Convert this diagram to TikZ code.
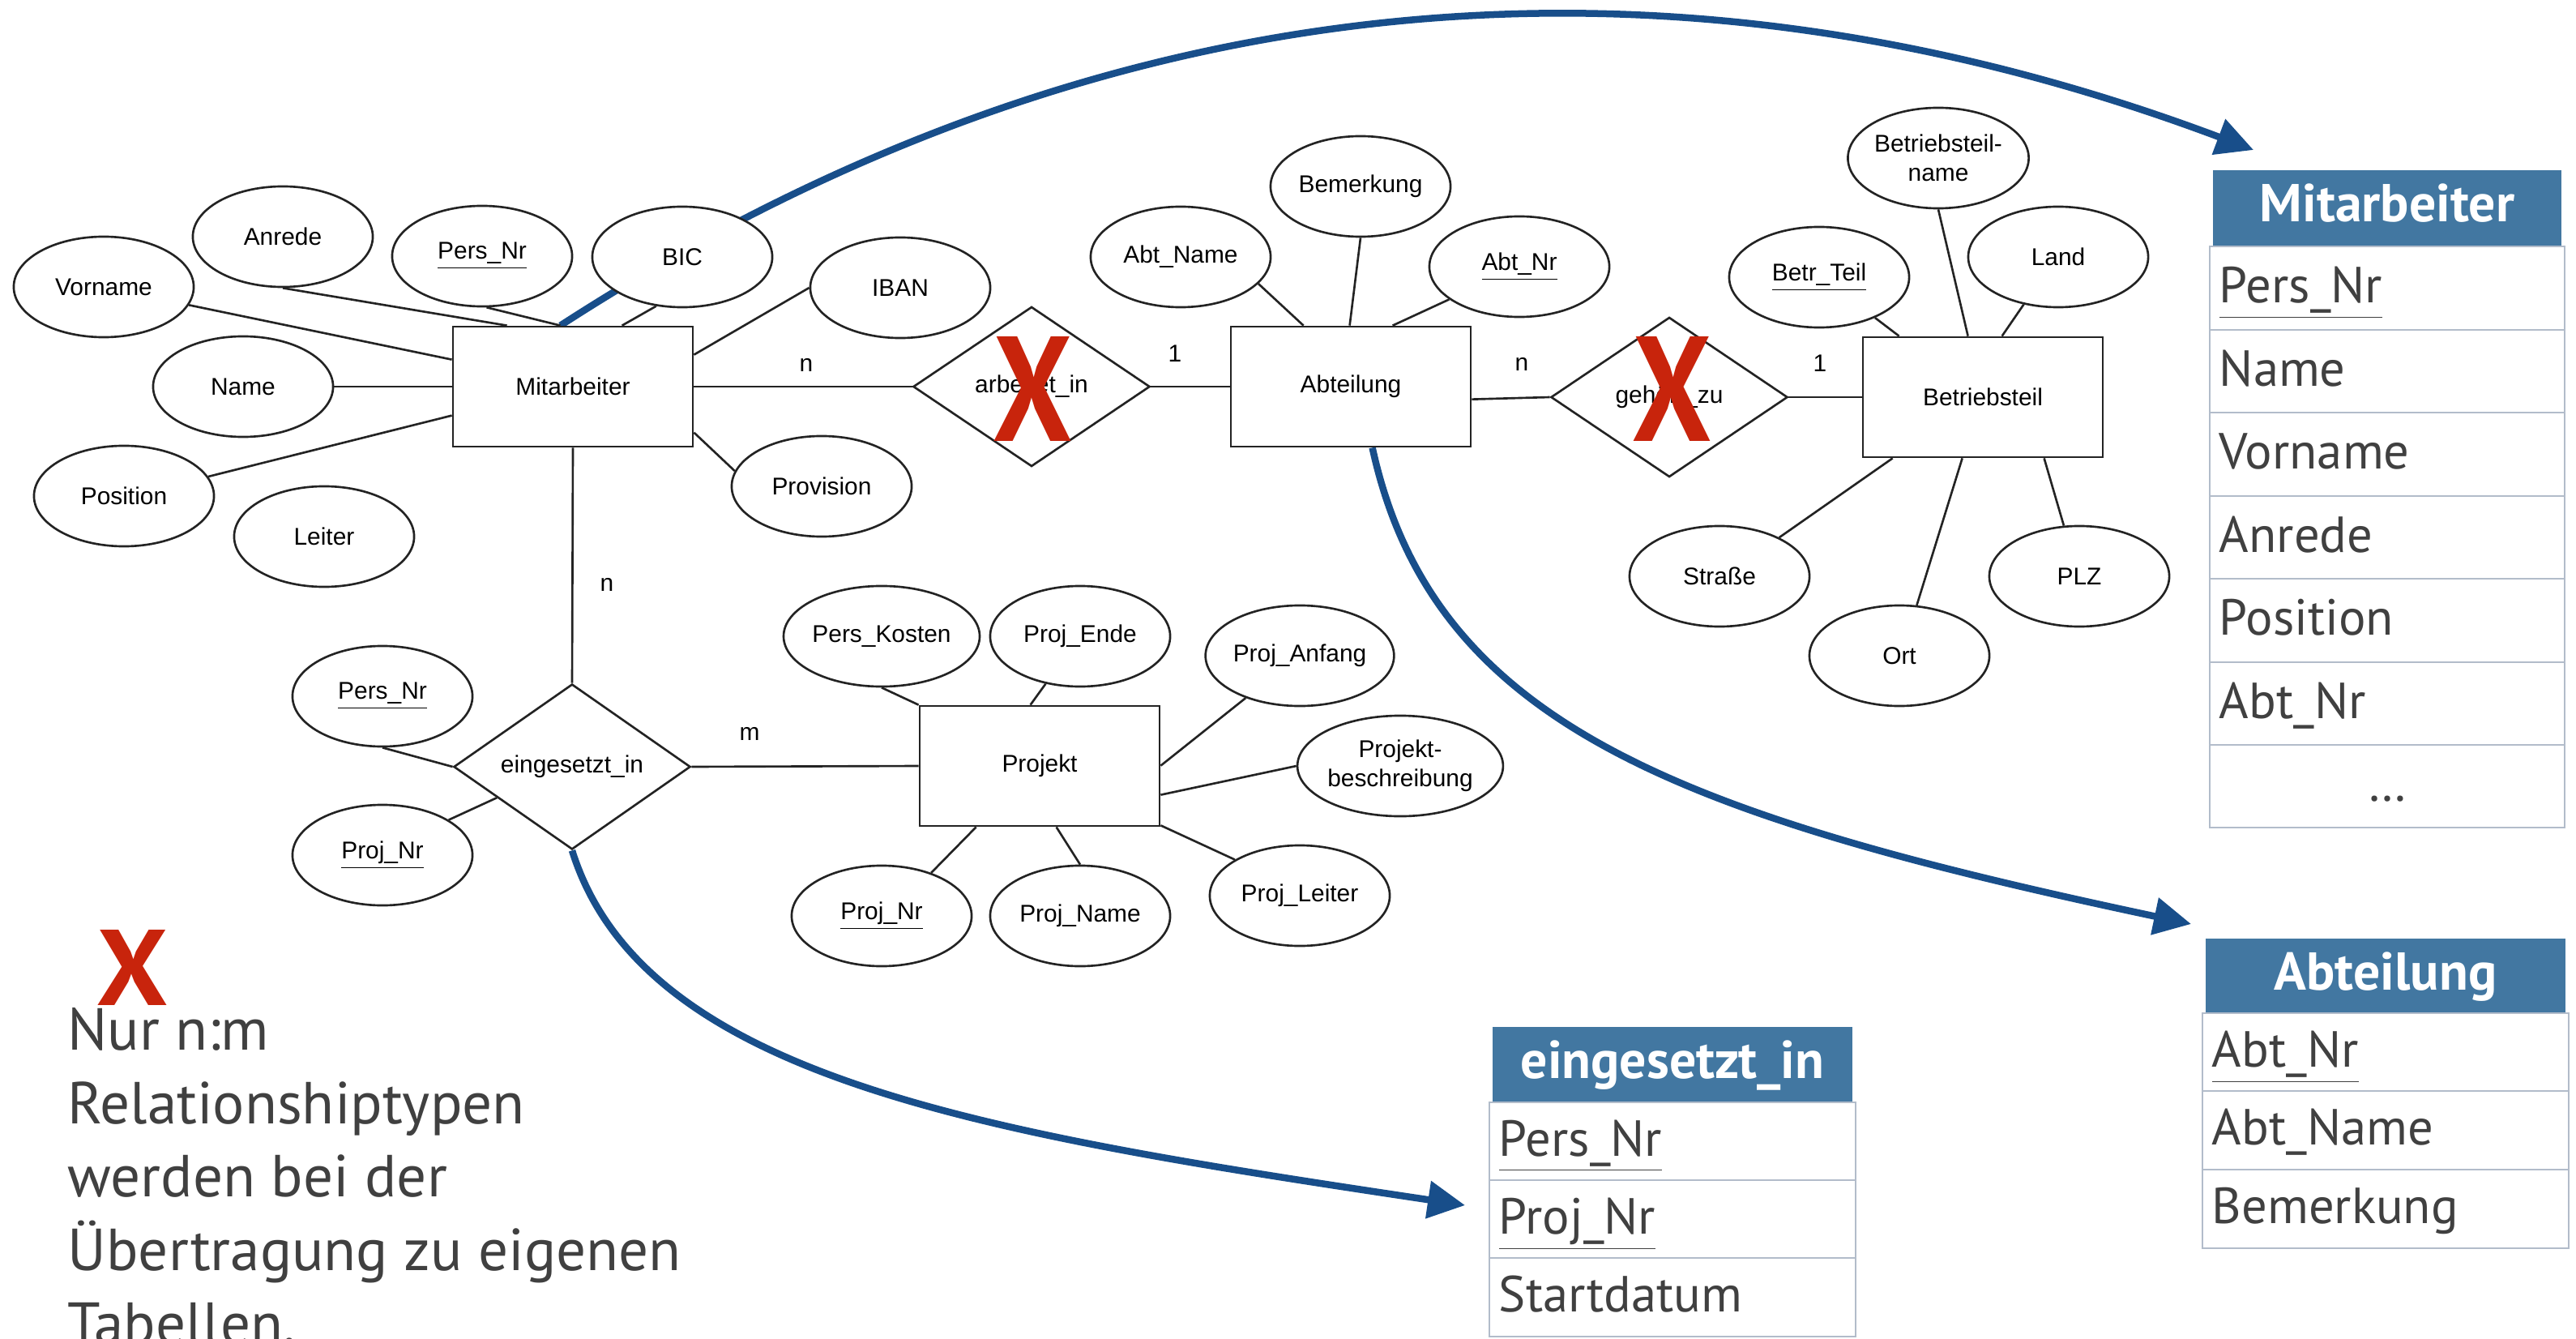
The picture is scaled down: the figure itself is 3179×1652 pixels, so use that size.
\documentclass[tikz,border=0pt]{standalone}
\usepackage{fontspec}
\usepackage{graphicx}
\setmainfont{Liberation Sans}
\newfontfamily\tabfont{PT Sans}
\usetikzlibrary{shapes.geometric,arrows.meta,calc,backgrounds}
\definecolor{erline}{RGB}{35,35,35}
\definecolor{flowblue}{RGB}{24,78,138}
\definecolor{headblue}{RGB}{66,119,161}
\definecolor{rowline}{RGB}{178,188,202}
\definecolor{tabtext}{RGB}{64,64,64}
\definecolor{crossred}{RGB}{200,36,12}
\begin{document}
\begin{tikzpicture}[x=0.01cm,y=-0.01cm,
  every node/.style={inner sep=0pt},
  erfont/.style={font=\fontsize{8.5}{10.2}\selectfont},
  attr/.style={ellipse,draw=erline,line width=0.75pt,fill=white,minimum width=2.22cm,minimum height=1.24cm,erfont,align=center},
  entity/.style={rectangle,draw=erline,line width=0.75pt,fill=white,minimum width=2.96cm,minimum height=1.48cm,erfont},
  rel/.style={diamond,draw=erline,line width=0.75pt,fill=white,minimum width=2.92cm,minimum height=1.97cm,erfont},
  link/.style={draw=erline,line width=0.75pt},
  card/.style={erfont},
  flow/.style={draw=flowblue,line width=0.085cm,-{Triangle[length=0.46cm,width=0.45cm]}},
  cross/.style={text=crossred,font=\tabfont\bfseries},
  thead/.style={fill=headblue,text=white,font=\tabfont\bfseries\fontsize{18.7}{20}\selectfont,minimum height=0.93cm,text height=0.5cm,text depth=0.16cm},
  trow/.style={draw=rowline,line width=0.6pt,fill=white,text=tabtext,font=\tabfont\fontsize{17.8}{20}\selectfont,text height=0.5cm,text depth=0.14cm,align=left,inner xsep=0.12cm},
  mrow/.style={trow,text width=4.14cm,minimum height=1.024cm},
  srow/.style={trow,text width=4.28cm,minimum height=0.965cm},
  notetext/.style={font=\tabfont\fontsize{20.8}{25}\selectfont,text=tabtext,anchor=base west},
]
\useasboundingbox (0,0) rectangle (3179,1652);

% ---------- entities, relationships, attributes ----------
\node[attr] (vorname) at (128,354) {Vorname};
\node[attr] (anrede) at (349,292) {Anrede};
\node[attr] (persnrA) at (595,316) {\underline{Pers\_Nr}};
\node[attr] (bic) at (842,317) {BIC};
\node[attr] (iban) at (1111,355) {IBAN};
\node[attr] (name) at (300,477) {Name};
\node[attr] (position) at (153,612) {Position};
\node[attr] (leiter) at (400,662) {Leiter};
\node[attr] (provision) at (1014,600) {Provision};
\node[entity] (mit) at (707,477) {Mitarbeiter};

\node[rel] (arbeitet) at (1273,477) {arbeitet\_in};

\node[entity] (abt) at (1667,477) {Abteilung};
\node[attr] (abtname) at (1457,317) {Abt\_Name};
\node[attr] (bemerkung) at (1679,230) {Bemerkung};
\node[attr] (abtnr) at (1875,329) {\underline{Abt\_Nr}};

\node[rel] (gehoert) at (2060,490) {gehört\_zu};

\node[entity] (betr) at (2447,490) {Betriebsteil};
\node[attr] (betrteil) at (2245,342) {\underline{Betr\_Teil}};
\node[attr] (betrname) at (2392,195) {Betriebsteil-\\name};
\node[attr] (land) at (2540,317) {Land};
\node[attr] (strasse) at (2122,711) {Straße};
\node[attr] (ort) at (2344,809) {Ort};
\node[attr] (plz) at (2566,711) {PLZ};

\node[rel] (einges) at (706,946) {eingesetzt\_in};
\node[attr] (persnrB) at (472,859) {\underline{Pers\_Nr}};
\node[attr] (projnrA) at (472,1055) {\underline{Proj\_Nr}};

\node[entity] (proj) at (1283,945) {Projekt};
\node[attr] (perskosten) at (1088,785) {Pers\_Kosten};
\node[attr] (projende) at (1333,785) {Proj\_Ende};
\node[attr] (projanfang) at (1604,809) {Proj\_Anfang};
\node[attr] (projbeschr) at (1728,945) {Projekt-\\beschreibung};
\node[attr] (projnrB) at (1088,1130) {\underline{Proj\_Nr}};
\node[attr] (projname) at (1333,1130) {Proj\_Name};
\node[attr] (projleiter) at (1604,1105) {Proj\_Leiter};

% ---------- attribute links ----------
\draw[link] (vorname.-12) -- ($(mit.north west)+(0,42)$);
\draw[link] (anrede.south) -- ($(mit.north west)+(68,0)$);
\draw[link] (persnrA.-85) -- ($(mit.north west)+(134,0)$);
\draw[link] (bic.-118) -- ($(mit.north west)+(210,0)$);
\draw[link] (iban.west) -- ($(mit.north east)+(0,36)$);
\draw[link] (name.east) -- (mit.west);
\draw[link] (position.13) -- ($(mit.north west)+(0,111)$);
\draw[link] (provision.170) -- ($(mit.north east)+(0,132)$);

\draw[link] (abtname.-19) -- ($(abt.north west)+(91,0)$);
\draw[link] (bemerkung.south) -- ($(abt.north west)+(148,0)$);
\draw[link] (abtnr.205) -- ($(abt.north west)+(201,0)$);

\draw[link] (betrteil.-36) -- ($(betr.north west)+(46,0)$);
\draw[link] (betrname.south) -- ($(betr.north west)+(131,0)$);
\draw[link] (land.-126) -- ($(betr.north west)+(173,0)$);
\draw[link] (strasse.33) -- ($(betr.south west)+(38,0)$);
\draw[link] (ort.71) -- ($(betr.south west)+(124,0)$);
\draw[link] (plz.107) -- ($(betr.south west)+(225,0)$);

\draw[link] (persnrB.south) -- (einges.west);
\draw[link] (projnrA.28) -- ($(einges.west)!0.37!(einges.south)$);

\draw[link] (perskosten.south) -- (proj.north west);
\draw[link] (projende.-126) -- ($(proj.north west)+(138,0)$);
\draw[link] (projanfang.-142) -- ($(proj.north east)+(0,75)$);
\draw[link] (projbeschr.west) -- ($(proj.north east)+(0,111)$);
\draw[link] (projnrB.41) -- ($(proj.south west)+(71,0)$);
\draw[link] (projname.north) -- ($(proj.south west)+(170,0)$);
\draw[link] (projleiter.151) -- ($(proj.south east)+(0,-2)$);

% ---------- relationship links and cardinalities ----------
\draw[link] (mit.east) -- (arbeitet.west);
\draw[link] (arbeitet.east) -- (abt.west);
\draw[link] ($(abt.north east)+(0,91)$) -- (gehoert.west);
\draw[link] (gehoert.east) -- (betr.west);
\draw[link] (mit.south) -- (einges.north);
\draw[link] (einges.east) -- (proj.west);

\node[card] (c1) at (995,450) {n};
\node[card] (c2) at (1450,436) {1};
\node[card] (c3) at (1878,449) {n};
\node[card] (c4) at (2246,448) {1};
\node[card] (c5) at (749,721) {n};
\node[card] (c6) at (925,905) {m};

% ---------- crossed-out relationships ----------
\node[cross] (x1) at (1275,480) {\resizebox{0.98cm}{1.29cm}{X}};
\node[cross] (x2) at (2064,480) {\resizebox{0.98cm}{1.29cm}{X}};
\node[cross] (x3) at (164,1194) {\resizebox{0.88cm}{0.93cm}{X}};

% ---------- tables ----------
\node[thead,minimum width=4.3cm] (tmh) at (2946,256.5) {Mitarbeiter};
\node[mrow] (tm1) at (2946,355.5) {\underline{Pers\_Nr}};
\node[mrow] (tm2) at (2946,458) {Name};
\node[mrow] (tm3) at (2946,560.5) {Vorname};
\node[mrow] (tm4) at (2946,663) {Anrede};
\node[mrow] (tm5) at (2946,765.5) {Position};
\node[mrow] (tm6) at (2946,868) {Abt\_Nr};
\node[mrow,align=center] (tm7) at (2946,970) {…};

\node[thead,minimum width=4.44cm] (tah) at (2944,1204.5) {Abteilung};
\node[srow] (ta1) at (2944,1298.5) {\underline{Abt\_Nr}};
\node[srow] (ta2) at (2944,1394.5) {Abt\_Name};
\node[srow] (ta3) at (2944,1491.5) {Bemerkung};

\node[thead,minimum width=4.44cm] (teh) at (2064,1313.5) {eingesetzt\_in};
\node[srow] (te1) at (2064,1408) {\underline{Pers\_Nr}};
\node[srow] (te2) at (2064,1504) {\underline{Proj\_Nr}};
\node[srow] (te3) at (2064,1600.5) {Startdatum};

% ---------- note ----------
\node[notetext] (n1) at (83,1295) {Nur n:m};
\node[notetext] (n2) at (83,1386) {Relationshiptypen};
\node[notetext] (n3) at (83,1476) {werden bei der};
\node[notetext] (n4) at (83,1567) {Übertragung zu eigenen};
\node[notetext] (n5) at (83,1658) {Tabellen.};

% ---------- mapping arrows ----------
\coordinate (tipM) at (2781,185);
\coordinate (tipA) at (2704,1140);
\coordinate (tipE) at (1808,1487);
\begin{pgfonlayer}{background}
\draw[flow] ($(mit.north west)+(134,0)$) .. controls (1431,-77) and (2145,-54) .. (tipM);
\draw[flow] ($(abt.south west)+(176,0)$) .. controls (1768,893) and (2068,1005) .. (tipA);
\draw[flow] (einges.south) .. controls (794,1331) and (1215,1398) .. (tipE);
\end{pgfonlayer}
\end{tikzpicture}
\end{document}
